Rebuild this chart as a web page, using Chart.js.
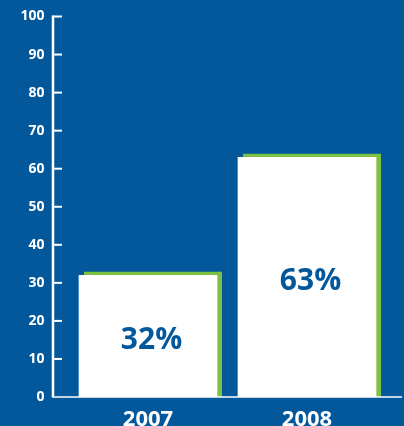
<!DOCTYPE html>
<html>
<head>
<meta charset="utf-8">
<script src="https://cdn.jsdelivr.net/npm/chart.js@4"></script>
<style>
  html, body { margin: 0; padding: 0; background: #03589c; }
  #wrap { width: 404px; height: 426px; }
</style>
</head>
<body>
<div id="wrap"><canvas id="myChart" width="404" height="426"></canvas></div>
<script>
var years = ["2007", "2008"];
var shares = [32, 63];
var valueLabels = ["32%", "63%"];
var yTicks = [0, 10, 20, 30, 40, 50, 60, 70, 80, 90, 100];

var BLUE = "#03589c";
var GREEN = "#7cc142";

// green shadow behind each bar, axis lines and the % labels
var decor = {
  id: "decor",
  beforeDatasetsDraw: function(chart) {
    var ctx = chart.ctx;
    var meta = chart.getDatasetMeta(0);
    ctx.save();
    ctx.fillStyle = GREEN;
    meta.data.forEach(function(bar) {
      ctx.fillRect(bar.x - bar.width / 2 + 5, bar.y - 3.5, bar.width, bar.base - bar.y + 3.5);
    });
    ctx.restore();
  },
  afterDatasetsDraw: function(chart) {
    var ctx = chart.ctx;
    var y = chart.scales.y;
    var axisX = 53;
    ctx.save();
    ctx.strokeStyle = "#ffffff";
    // y axis line
    ctx.lineWidth = 2.5;
    ctx.beginPath();
    ctx.moveTo(axisX, y.getPixelForValue(100) - 1);
    ctx.lineTo(axisX, y.getPixelForValue(0) + 0.5);
    ctx.stroke();
    // tick marks pointing right
    ctx.lineWidth = 2;
    yTicks.forEach(function(t) {
      if (t === 0) return;
      var py = y.getPixelForValue(t);
      ctx.beginPath();
      ctx.moveTo(axisX, py);
      ctx.lineTo(axisX + 9, py);
      ctx.stroke();
    });
    // x axis line
    ctx.lineWidth = 1.5;
    ctx.beginPath();
    ctx.moveTo(axisX, y.getPixelForValue(0));
    ctx.lineTo(402, y.getPixelForValue(0));
    ctx.stroke();

    // value labels
    var meta = chart.getDatasetMeta(0);
    ctx.fillStyle = BLUE;
    ctx.font = "bold 30px 'Open Sans'";
    ctx.textAlign = "center";
    ctx.textBaseline = "middle";
    meta.data.forEach(function(bar, i) {
      ctx.fillText(valueLabels[i], bar.x + 3.5, (bar.y + bar.base) / 2 + 4);
    });
    ctx.restore();
  }
};

var ctx = document.getElementById("myChart").getContext("2d");
var chart = new Chart(ctx, {
  type: "bar",
  data: {
    labels: years,
    datasets: [
      {
        data: shares,
        backgroundColor: "#ffffff",
        borderWidth: 0,
        barThickness: 138
      }
    ]
  },
  options: {
    responsive: false,
    animation: false,
    layout: { padding: { top: 16.5, right: 17.5, left: 0, bottom: 0 } },
    plugins: { legend: { display: false }, tooltip: { enabled: false } },
    scales: {
      x: {
        grid: { display: false, drawTicks: false },
        border: { display: false },
        ticks: {
          color: "#ffffff",
          font: { family: "'Open Sans'", size: 22, weight: "bold" },
          padding: 10
        },
        afterFit: function(scale) {
          scale.height = 29;
          scale.paddingLeft = 0;
          scale.paddingRight = 0;
        }
      },
      y: {
        min: 0,
        max: 100,
        grid: { display: false, drawTicks: false },
        border: { display: false },
        ticks: {
          stepSize: 10,
          color: "#ffffff",
          font: { family: "'Open Sans'", size: 14, weight: "bold" },
          padding: 24
        },
        afterFit: function(scale) {
          scale.width = 68.5;
          scale.paddingTop = 0;
          scale.paddingBottom = 0;
        }
      }
    }
  },
  plugins: [decor]
});
</script>
</body>
</html>
